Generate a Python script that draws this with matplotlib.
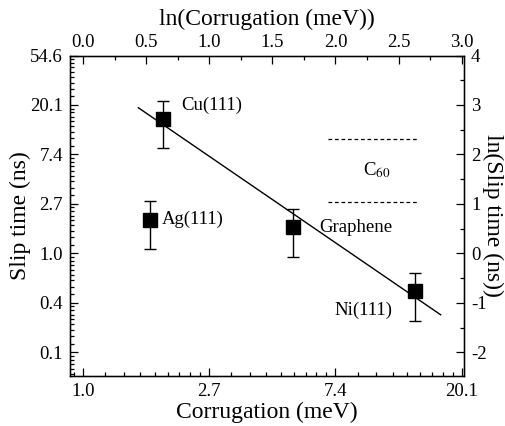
import numpy as np
import matplotlib
matplotlib.use("Agg")
import matplotlib.pyplot as plt
from matplotlib.ticker import FixedLocator, FixedFormatter, MultipleLocator, NullFormatter

plt.rcParams['font.family'] = ['Liberation Serif', 'DejaVu Serif']
plt.rcParams['mathtext.fontset'] = 'stix'

# ---- data ----
materials = ["Cu(111)", "Ag(111)", "Graphene", "Ni(111)"]
corrugation = [1.89, 1.70, 5.29, 13.9]          # meV
slip_time = [15.1, 1.96, 1.69, 0.463]          # ns
slip_hi = [21.8, 2.86, 2.44, 0.67]             # ns, error bar top
slip_lo = [8.4, 1.09, 0.92, 0.257]             # ns, error bar bottom

fit_intercept = 3.71   # ln(slip) = a + b ln(corr)
fit_slope = -1.748
fit_range = [1.55, 17.0]                        # meV

c60_band_hi = 10.1     # ns
c60_band_lo = 2.83     # ns
c60_band_x = [6.96, 14.2]  # meV

bottom_ticks = [1.0, np.e, np.e**2, np.e**3]
bottom_labels = ["1.0", "2.7", "7.4", "20.1"]
left_ticks = [np.e**k for k in range(-2, 5)]
left_labels = ["0.1", "0.4", "1.0", "2.7", "7.4", "20.1", "54.6"]
top_labels = ["0.0", "0.5", "1.0", "1.5", "2.0", "2.5", "3.0"]
right_labels = ["-2", "-1", "0", "1", "2", "3", "4"]

# ---- figure ----
fig = plt.figure(figsize=(5.06, 4.26), dpi=100)
ax = fig.add_axes([70/506, (426-376)/426, (464-70)/506, (376-55.5)/426])
ax.set_xscale('log', base=np.e)
ax.set_yscale('log', base=np.e)
xlim = (np.exp(-0.103), np.exp(3.018))
ylim = (np.exp(-2.48), np.exp(4.0))
ax.set_xlim(*xlim)
ax.set_ylim(*ylim)

x = np.array(corrugation)
y = np.array(slip_time)
yerr = [y - np.array(slip_lo), np.array(slip_hi) - y]
ax.errorbar(x, y, yerr=yerr, fmt='s', color='black', ms=9.5, mec='black',
            mfc='black', ecolor='black', elinewidth=1.0, capsize=4.5, capthick=1.0,
            zorder=3)

xf = np.array(fit_range)
yf = np.exp(fit_intercept + fit_slope * np.log(xf))
ax.plot(xf, yf, color='black', lw=1.0)

ax.plot(c60_band_x, [c60_band_hi]*2, color='black', lw=0.9, ls=(0, (3, 2.2)))
ax.plot(c60_band_x, [c60_band_lo]*2, color='black', lw=0.9, ls=(0, (3, 2.2)))

fs = 13.5
lfs = 17
ax.text(2.17, 19.8, materials[0], fontsize=fs, ha='left', va='center')
ax.text(1.87, 1.97, materials[1], fontsize=fs, ha='left', va='center')
ax.text(6.48, 1.68, materials[2], fontsize=fs, ha='left', va='center')
ax.text(7.3, 0.314, materials[3], fontsize=fs, ha='left', va='center')
ax.text(9.18, 5.42, r'C$_{60}$', fontsize=fs, ha='left', va='center')

def minor_positions(lo_exp, hi_exp):
    out = []
    for n in range(lo_exp, hi_exp):
        a, b = np.e**n, np.e**(n+1)
        for k in range(1, 9):
            out.append(a + k*(b-a)/9)
    return out

ax.xaxis.set_major_locator(FixedLocator(bottom_ticks))
ax.xaxis.set_major_formatter(FixedFormatter(bottom_labels))
ax.xaxis.set_minor_locator(FixedLocator(minor_positions(-1, 4)))
ax.xaxis.set_minor_formatter(NullFormatter())
ax.yaxis.set_major_locator(FixedLocator(left_ticks))
ax.yaxis.set_major_formatter(FixedFormatter(left_labels))
ax.yaxis.set_minor_locator(FixedLocator(minor_positions(-3, 5)))
ax.yaxis.set_minor_formatter(NullFormatter())

ax.tick_params(which='both', direction='in', labelsize=fs, width=0.9)
ax.tick_params(which='major', length=6, pad=5)
ax.tick_params(which='minor', length=3)
ax.tick_params(top=False, right=False)

for s in ax.spines.values():
    s.set_linewidth(1.0)

ax.set_xlabel("Corrugation (meV)", fontsize=lfs, labelpad=1.5)
ax.set_ylabel("Slip time (ns)", fontsize=lfs, labelpad=-0.5)

# top axis (ln)
axt = ax.twiny()
axt.set_xlim(np.log(xlim[0]), np.log(xlim[1]))
axt.xaxis.set_major_locator(FixedLocator(np.arange(0, 3.01, 0.5)))
axt.xaxis.set_major_formatter(FixedFormatter(top_labels))
axt.xaxis.set_minor_locator(MultipleLocator(0.25))
axt.tick_params(axis='x', which='both', direction='in', labelsize=fs, width=0.9)
axt.tick_params(axis='x', which='major', length=6, pad=3)
axt.tick_params(axis='x', which='minor', length=3)
axt.set_xlabel("ln(Corrugation (meV))", fontsize=lfs, labelpad=7)

# right axis (ln)
axr = ax.twinx()
axr.set_ylim(np.log(ylim[0]), np.log(ylim[1]))
axr.yaxis.set_major_locator(FixedLocator(np.arange(-2, 4.01, 1)))
axr.yaxis.set_major_formatter(FixedFormatter(right_labels))
axr.yaxis.set_minor_locator(MultipleLocator(0.5))
axr.tick_params(axis='y', which='both', direction='in', labelsize=fs, width=0.9)
axr.tick_params(axis='y', which='major', length=6, pad=5)
axr.tick_params(axis='y', which='minor', length=3)
axr.set_ylabel("ln(Slip time (ns))", fontsize=lfs, rotation=270, labelpad=12)

fig.savefig("out.png", dpi=100)
